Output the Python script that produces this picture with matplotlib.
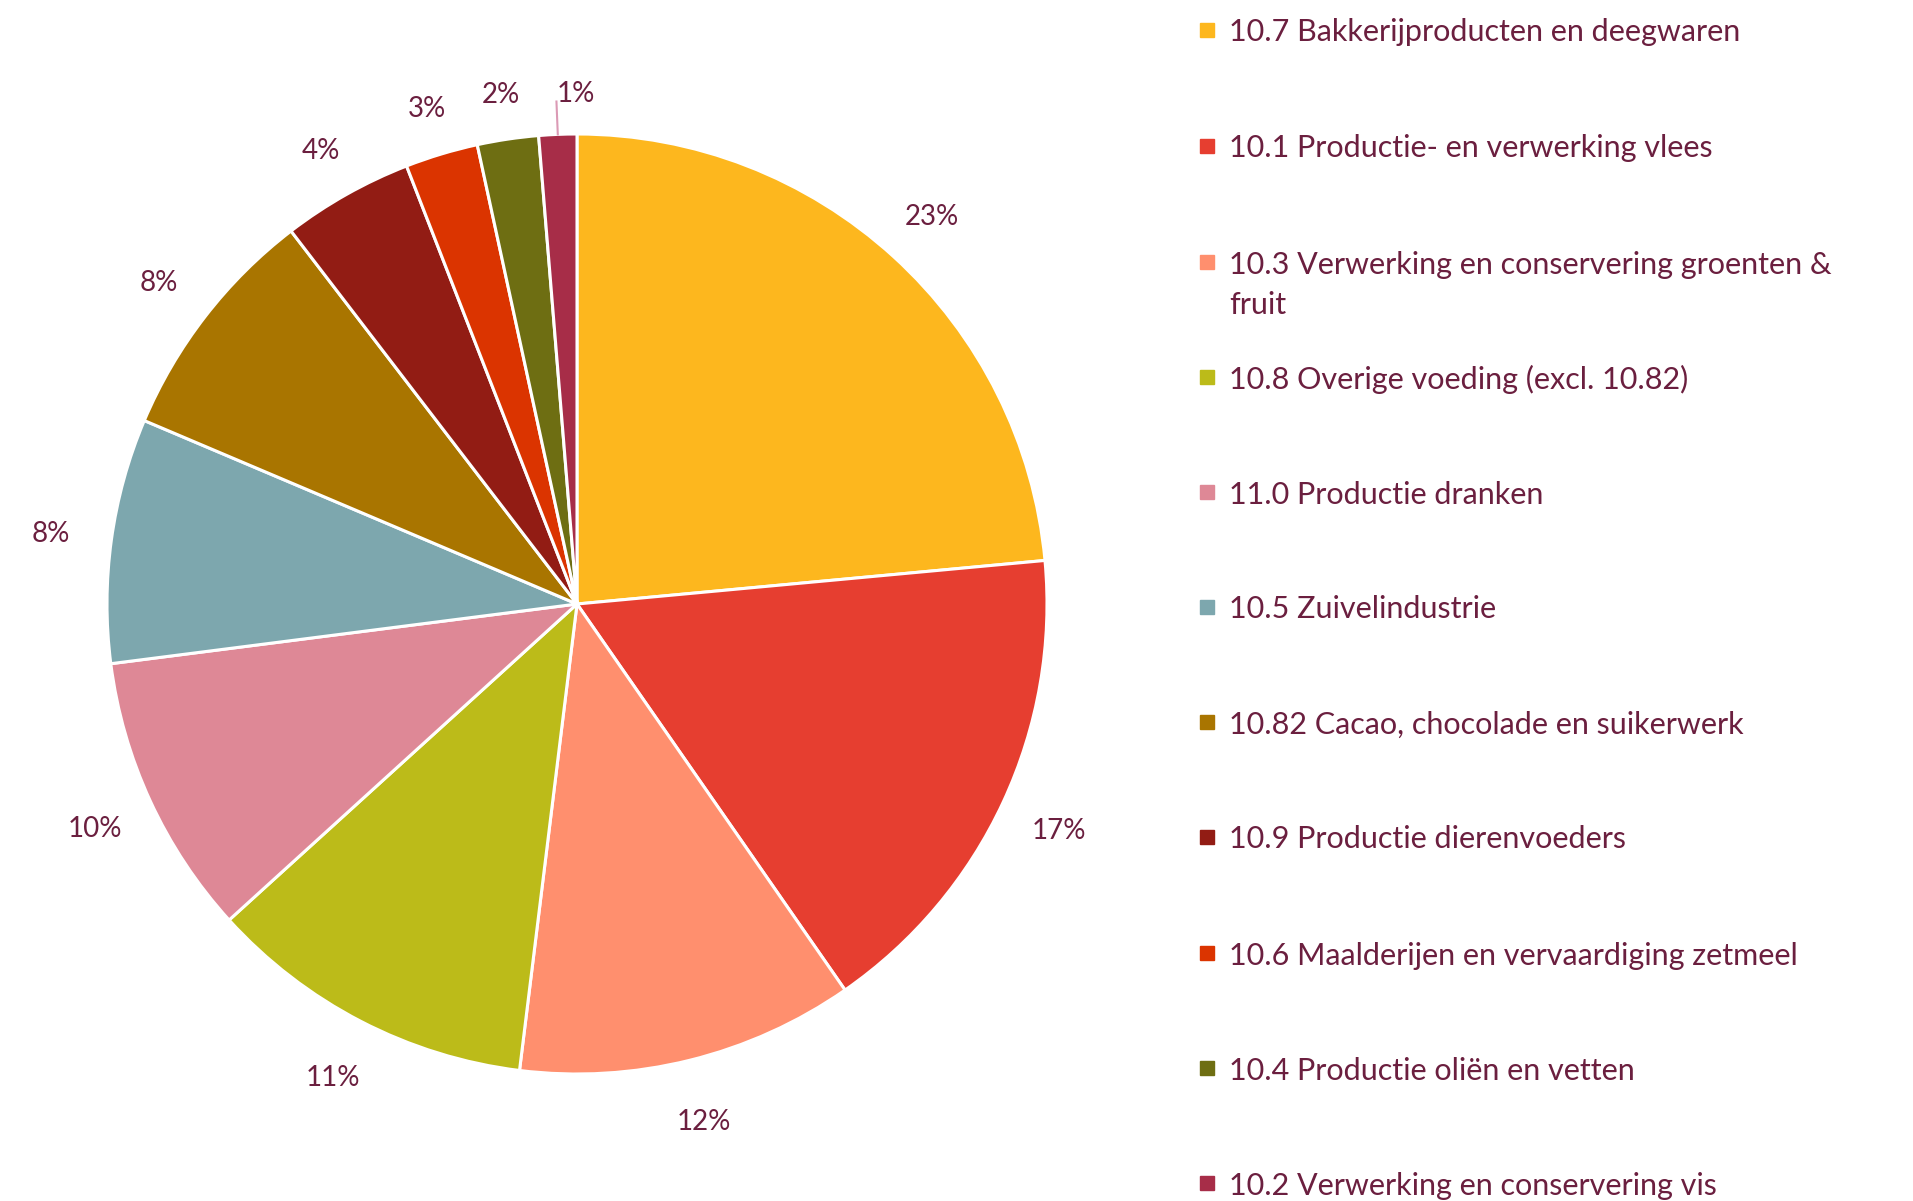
import matplotlib
matplotlib.use("Agg")
import matplotlib.pyplot as plt
import numpy as np

categories = [
    "10.7 Bakkerijproducten en deegwaren",
    "10.1 Productie- en verwerking vlees",
    "10.3 Verwerking en conservering groenten &\nfruit",
    "10.8 Overige voeding (excl. 10.82)",
    "11.0 Productie dranken",
    "10.5 Zuivelindustrie",
    "10.82 Cacao, chocolade en suikerwerk",
    "10.9 Productie dierenvoeders",
    "10.6 Maalderijen en vervaardiging zetmeel",
    "10.4 Productie oliën en vetten",
    "10.2 Verwerking en conservering vis",
]
shares = [23.5, 16.8, 11.6, 11.3, 9.7, 8.4, 8.2, 4.5, 2.5, 2.1, 1.3]
pct_labels = ["23%", "17%", "12%", "11%", "10%", "8%", "8%", "4%", "3%", "2%", "1%"]
colors = ["#FDB71E", "#E63E30", "#FF8F6E", "#BCBB19", "#DE8896", "#7DA7AE",
          "#A97500", "#921C14", "#DB3400", "#6E6E12", "#A72D48"]

text_color = "#6B1F3F"
plt.rcParams['font.family'] = ['Lato', 'DejaVu Sans']

W, H = 1913, 1201
fig = plt.figure(figsize=(W / 100, H / 100), dpi=100)

# pie axes placed so that center/radius match the reference
cx, cy, rpx = 577, 604, 470
half = 1.3
hp = rpx * half
ax = fig.add_axes([(cx - hp) / W, (H - cy - hp) / H, 2 * hp / W, 2 * hp / H])

wedges, _ = ax.pie(shares, colors=colors, startangle=90, counterclock=False,
                   wedgeprops=dict(edgecolor="white", linewidth=2.2))
ax.set_xlim(-half, half)
ax.set_ylim(-half, half)
ax.set_aspect("equal")
ax.axis("off")

for w, lab in zip(wedges, pct_labels):
    ang = np.deg2rad((w.theta1 + w.theta2) / 2)
    x, y = np.cos(ang), np.sin(ang)
    if lab == "1%":
        ax.plot([1.0 * x, 1.07 * x], [1.0 * y, 1.07 * y], color="#DB9AB5", lw=1.5)
        ax.text(1.07 * x, 1.07 * y, lab, ha="left", va="baseline",
                color=text_color, fontsize=20)
    else:
        d = 1.13 - 0.03 * max(0, y) ** 4
        ax.text(d * x, d * y, lab, ha="center", va="center_baseline",
                color=text_color, fontsize=20)

# legend drawn on the figure
row_y = [30, 146, 262, 377, 492, 607, 722, 837, 953, 1068, 1183]
for yy, c, name in zip(row_y, colors, categories):
    fig.patches.append(plt.Rectangle((1200 / W, (H - yy - 7) / H), 14 / W, 14 / H,
                                     transform=fig.transFigure, color=c))
    lines = name.split("\n")
    fig.text(1229 / W, (H - yy) / H, lines[0], ha="left", va="center_baseline",
             color=text_color, fontsize=22)
    if len(lines) > 1:
        fig.text(1229 / W, (H - yy - 41) / H, lines[1], ha="left", va="center_baseline",
                 color=text_color, fontsize=22)

fig.savefig("out.png", dpi=100)
